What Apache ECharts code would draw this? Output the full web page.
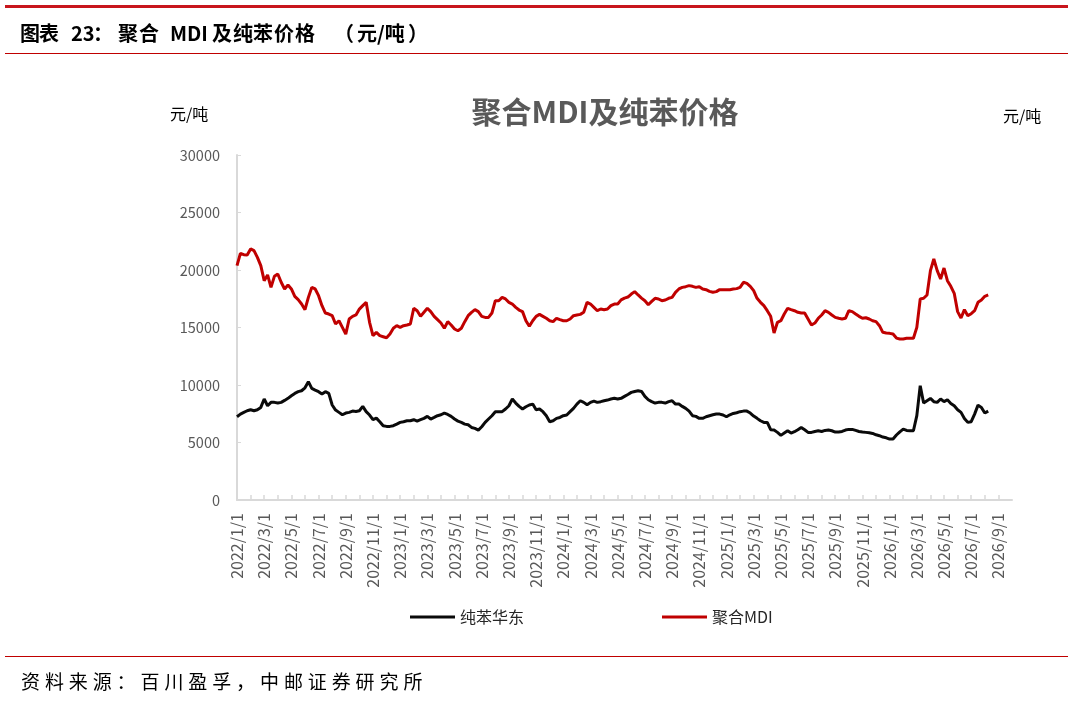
<!DOCTYPE html>
<html>
<head>
<meta charset="utf-8">
<script src="https://cdn.jsdelivr.net/npm/echarts@6/dist/echarts.min.js"></script>
<style>
  html, body { margin: 0; padding: 0; background: #fff; }
  #chart { width: 1068px; height: 727px; }
</style>
</head>
<body>
<div id="chart"></div>
<script>
// dates: 4 readings a month (1st, 8th, 16th, 23rd), 2022/1 .. 2026/9, plus 2026/10/1 as axis end
const startYear = 2022;
const monthCount = 57;
const readDays = [1, 8, 16, 23];

// 纯苯华东, 元/吨 (one row per month)
const benzene = [
  7240, 7470, 7620, 7760,   // 2022/1
  7850, 7760, 7850, 8050,
  8780, 8200, 8490, 8490,
  8430, 8490, 8660, 8840,
  9070, 9270, 9420, 9500,
  9760, 10290, 9710, 9560,
  9420, 9210, 9420, 9270,
  8260, 7820, 7620, 7410,
  7560, 7620, 7730, 7700,
  7760, 8140, 7680, 7390,
  6980, 7120, 6810, 6460,
  6400, 6400, 6460, 6600,
  6750, 6810, 6890, 6890,   // 2023/1
  6980, 6860, 6980, 7100,
  7270, 7040, 7180, 7330,
  7410, 7560, 7440, 7270,
  7040, 6860, 6750, 6600,
  6540, 6310, 6230, 6080,
  6370, 6750, 7040, 7330,
  7680, 7680, 7680, 7910,
  8200, 8780, 8430, 8140,
  7910, 8110, 8260, 8340,
  7850, 7910, 7680, 7330,
  6810, 6890, 7100, 7180,
  7330, 7390, 7680, 7970,   // 2024/1
  8340, 8630, 8490, 8280,
  8490, 8600, 8490, 8550,
  8630, 8690, 8780, 8840,
  8780, 8840, 9010, 9180,
  9360, 9440, 9500, 9440,
  9010, 8720, 8550, 8430,
  8490, 8490, 8430, 8550,
  8630, 8340, 8340, 8140,
  7970, 7730, 7330, 7270,
  7100, 7100, 7240, 7330,
  7410, 7470, 7470, 7390,
  7240, 7410, 7530, 7590,   // 2025/1
  7680, 7730, 7730, 7560,
  7300, 7100, 6890, 6750,
  6750, 6110, 6080, 5880,
  5620, 5820, 6020, 5820,
  5940, 6110, 6310, 6110,
  5880, 5880, 5960, 6020,
  5960, 6050, 6080, 6020,
  5910, 5910, 5960, 6080,
  6140, 6140, 6050, 5960,
  5910, 5880, 5850, 5790,
  5670, 5590, 5470, 5410,
  5300, 5300, 5650, 5930,   // 2026/1
  6170, 6050, 6020, 6020,
  7330, 9940, 8430, 8630,
  8830, 8550, 8490, 8780,
  8550, 8720, 8400, 8200,
  7850, 7620, 7090, 6750,
  6810, 7470, 8250, 8050,
  7560, 7730
];

// 聚合MDI, 元/吨
const mdi = [
  20380, 21450, 21330, 21300,   // 2022/1
  21830, 21680, 21100, 20380,
  19070, 19570, 18490, 19450,
  19650, 18930, 18350, 18700,
  18350, 17710, 17420, 17040,
  16550, 17620, 18490, 18350,
  17770, 16900, 16260, 16170,
  16030, 15300, 15590, 15010,
  14430, 15740, 15970, 16090,
  16600, 16900, 17190, 15450,
  14290, 14580, 14290, 14200,
  14110, 14430, 14930, 15160,
  15010, 15160, 15220, 15300,   // 2023/1
  16670, 16460, 15970, 16320,
  16670, 16380, 15970, 15680,
  15390, 14930, 15510, 15220,
  14870, 14720, 14930, 15510,
  16030, 16320, 16550, 16380,
  15970, 15880, 15880, 16260,
  17330, 17330, 17620, 17480,
  17190, 17040, 16750, 16520,
  16380, 15590, 15100, 15590,
  15970, 16140, 15970, 15800,
  15590, 15510, 15800, 15680,
  15590, 15590, 15740, 16030,   // 2024/1
  16090, 16140, 16320, 17190,
  17040, 16750, 16460, 16610,
  16550, 16610, 16900, 17040,
  17040, 17400, 17560, 17650,
  17910, 18120, 17830, 17560,
  17330, 16980, 17270, 17540,
  17480, 17330, 17390, 17540,
  17620, 18060, 18350, 18490,
  18550, 18640, 18580, 18490,
  18550, 18350, 18290, 18140,
  18060, 18120, 18290, 18290,
  18290, 18290, 18350, 18380,   // 2025/1
  18490, 18930, 18840, 18580,
  18200, 17540, 17190, 16900,
  16460, 15970, 14520, 15450,
  15590, 16170, 16670, 16550,
  16460, 16320, 16260, 16260,
  15740, 15220, 15390, 15800,
  16090, 16460, 16320, 16090,
  15880, 15800, 15740, 15800,
  16460, 16380, 16170, 15970,
  15800, 15850, 15740, 15590,
  15510, 15160, 14580, 14520,
  14490, 14430, 14080, 14000,   // 2026/1
  14000, 14060, 14060, 14060,
  15010, 17480, 17540, 17830,
  19940, 20960, 19940, 19220,
  20170, 19070, 18580, 17970,
  16380, 15830, 16550, 16030,
  16200, 16460, 17190, 17390,
  17710, 17830
];

const yTicks = [0, 5000, 10000, 15000, 20000, 25000, 30000];

const dates = [];
for (let m = 0; m < monthCount; m++) {
  const y = startYear + Math.floor(m / 12);
  const mo = (m % 12) + 1;
  readDays.forEach(d => dates.push(y + "/" + mo + "/" + d));
}
dates.push("2026/10/1");

const grey = "#595959";
const red = "#C00000";
const sans = "'Noto Sans CJK SC', 'Noto Sans', sans-serif";

// header and footer are set wide, one piece at a time
const headerPieces = [
  ["图", 20], ["表", 39], ["23", 71], ["：", 93], ["聚", 118], ["合", 139], ["MDI", 170],
  ["及", 212], ["纯", 233], ["苯", 253], ["价", 274], ["格", 295],
  ["（", 334], ["元/吨", 357], ["）", 408]
];
const footerText = "资料来源：百川盈孚，中邮证券研究所";

const graphics = [
  { type: "rect", left: 5, top: 5, shape: { width: 1063, height: 3 }, style: { fill: "#C8161D" } },
  { type: "rect", left: 5, top: 53, shape: { width: 1063, height: 1 }, style: { fill: red } },
  { type: "rect", left: 5, top: 656, shape: { width: 1063, height: 1 }, style: { fill: red } },
  { type: "text", left: 170, top: 106, style: { text: "元/吨", fill: "#000", font: "16px " + sans } },
  { type: "text", left: 1003, top: 108, style: { text: "元/吨", fill: "#000", font: "16px " + sans } }
];
headerPieces.forEach(p => {
  graphics.push({ type: "text", x: p[1], y: 33,
    style: { text: p[0], fill: "#000", font: "bold 20px " + sans, textVerticalAlign: "middle" } });
});
Array.from(footerText).forEach((ch, i) => {
  graphics.push({ type: "text", x: 21 + i * 23.9, y: 682,
    style: { text: ch, fill: "#000", font: "19px " + sans, textVerticalAlign: "middle" } });
});

let myChart = echarts.init(document.getElementById("chart"));
let option = {
  backgroundColor: "#ffffff",
  animation: false,
  textStyle: { fontFamily: sans },
  title: {
    text: "聚合MDI及纯苯价格",
    left: 600,
    top: 92,
    textAlign: "center",
    textStyle: { color: grey, fontSize: 30, fontWeight: "bold", fontFamily: sans }
  },
  legend: {
    left: 405,
    top: 604,
    itemGap: 138,
    itemWidth: 45,
    itemHeight: 3,
    icon: "rect",
    textStyle: { color: "#262626", fontSize: 16, fontFamily: sans },
    data: ["纯苯华东", "聚合MDI"]
  },
  grid: {
    left: 237,
    right: 56,
    top: 155,
    bottom: 227,
    containLabel: false
  },
  xAxis: {
    type: "category",
    boundaryGap: false,
    data: dates,
    axisLine: { show: true, lineStyle: { color: "#d9d9d9", width: 2 } },
    axisTick: {
      show: true,
      inside: true,
      length: 5,
      interval: (i, v) => v.endsWith("/1") && i < dates.length - 1,
      lineStyle: { color: "#d9d9d9", width: 1.5 }
    },
    axisLabel: {
      show: true,
      rotate: 90,
      margin: 13,
      color: grey,
      fontSize: 16,
      fontFamily: sans,
      interval: (i, v) => {
        const p = v.split("/");
        return p[2] === "1" && Number(p[1]) % 2 === 1 && i < dates.length - 1;
      }
    },
    splitLine: { show: false }
  },
  yAxis: {
    type: "value",
    min: 0,
    max: 30000,
    interval: 5000,
    splitLine: { show: false },
    axisLine: { show: true, lineStyle: { color: "#d9d9d9", width: 2 } },
    axisTick: { show: true, inside: true, length: 4, lineStyle: { color: "#d9d9d9" } },
    axisLabel: {
      show: true,
      margin: 17,
      color: grey,
      fontSize: 14.5,
      fontFamily: sans,
      formatter: v => (yTicks.indexOf(v) >= 0 ? String(v) : "")
    }
  },
  series: [
    {
      name: "纯苯华东",
      type: "line",
      symbol: "none",
      showSymbol: false,
      lineStyle: { color: "#0a0a0a", width: 3 },
      itemStyle: { color: "#0a0a0a" },
      data: benzene
    },
    {
      name: "聚合MDI",
      type: "line",
      symbol: "none",
      showSymbol: false,
      lineStyle: { color: red, width: 3 },
      itemStyle: { color: red },
      data: mdi
    }
  ],
  graphic: graphics
};
myChart.setOption(option);
</script>
</body>
</html>
